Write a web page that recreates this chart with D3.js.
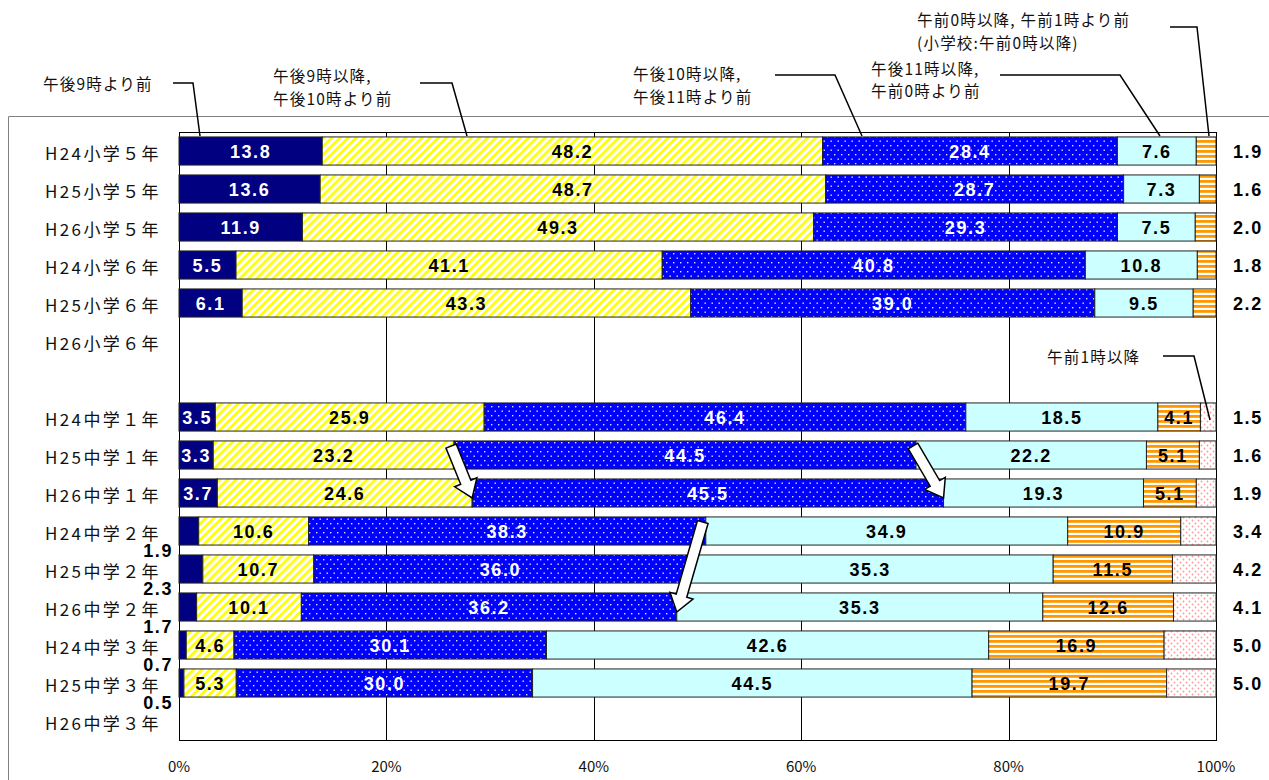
<!DOCTYPE html>
<html>
<head>
<meta charset="utf-8">
<script src="https://cdn.jsdelivr.net/npm/d3@7"></script>
<style>
  body { margin: 0; background: #fff; }
  svg { display: block; }
</style>
</head>
<body>
<svg id="chart" width="1269" height="780"></svg>
<script>
// --- data ---
const categories = [
    'H24小学５年', 'H25小学５年', 'H26小学５年', 'H24小学６年', 'H25小学６年', 'H26小学６年',
    '',
    'H24中学１年', 'H25中学１年', 'H26中学１年', 'H24中学２年', 'H25中学２年', 'H26中学２年',
    'H24中学３年', 'H25中学３年', 'H26中学３年'
];
const before21   = [13.8, 13.6, 11.9, 5.5, 6.1, null, null, 3.5, 3.3, 3.7, 1.9, 2.3, 1.7, 0.7, 0.5, null];
const from21to22 = [48.2, 48.7, 49.3, 41.1, 43.3, null, null, 25.9, 23.2, 24.6, 10.6, 10.7, 10.1, 4.6, 5.3, null];
const from22to23 = [28.4, 28.7, 29.3, 40.8, 39.0, null, null, 46.4, 44.5, 45.5, 38.3, 36.0, 36.2, 30.1, 30.0, null];
const from23to0  = [7.6, 7.3, 7.5, 10.8, 9.5, null, null, 18.5, 22.2, 19.3, 34.9, 35.3, 35.3, 42.6, 44.5, null];
const from0to1   = [1.9, 1.6, 2.0, 1.8, 2.2, null, null, 4.1, 5.1, 5.1, 10.9, 11.5, 12.6, 16.9, 19.7, null];
const after1     = [null, null, null, null, null, null, null, 1.5, 1.6, 1.9, 3.4, 4.2, 4.1, 5.0, 5.0, null];

const seriesValues = [before21, from21to22, from22to23, from23to0, from0to1, after1];
const seriesKeys = ['s0', 's1', 's2', 's3', 's4', 's5'];
const xTicks = [0, 0.2, 0.4, 0.6, 0.8, 1];

// callout annotations (text + leader line)
const callouts = [
    { lines: ['午後9時より前'], x: 43, y: [83], path: [[173, 83], [193, 83], [200, 136]] },
    { lines: ['午後9時以降,', '午後10時より前'], x: 273, y: [75, 98], path: [[420, 83], [452, 83], [467, 136]] },
    { lines: ['午後10時以降,', '午後11時より前'], x: 633, y: [73, 96], path: [[775, 75], [835, 75], [862, 136]] },
    { lines: ['午後11時以降,', '午前0時より前'], x: 871, y: [68, 90], path: [[1000, 75], [1120, 75], [1160, 136]] },
    { lines: ['午前0時以降, 午前1時より前', '(小学校:午前0時以降)'], x: 917, y: [19, 42], path: [[1170, 27], [1197, 27], [1209, 136]] },
    { lines: ['午前1時以降'], x: 1047, y: [356], path: [[1163, 356], [1194, 356], [1210, 420]] }
];

// arrows: from boundary (row, series end) to boundary (row, series end)
const arrows = [
    { fromRow: 8, toRow: 9, series: 1 },
    { fromRow: 8, toRow: 9, series: 2 },
    { fromRow: 10, toRow: 12, series: 2 }
];

// --- setup ---
const svg = d3.select('#chart');
const plotLeft = 179, plotRight = 1216, plotTop = 132, plotBottom = 740;

const x = d3.scaleLinear().domain([0, 1]).range([plotLeft, plotRight]);
const y = d3.scaleBand()
    .domain(d3.range(categories.length))
    .range([plotTop, plotBottom])
    .paddingInner(0.26)
    .paddingOuter(0.13);

const rows = categories.map((c, i) => {
    const r = { idx: i };
    seriesKeys.forEach((k, s) => r[k] = seriesValues[s][i] || 0);
    return r;
});
const stacked = d3.stack().keys(seriesKeys).offset(d3.stackOffsetExpand)(rows);

// patterns
const defs = svg.append('defs');

const pYellow = defs.append('pattern').attr('id', 'pYellow')
    .attr('patternUnits', 'userSpaceOnUse').attr('width', 5.8).attr('height', 10)
    .attr('patternTransform', 'rotate(45)');
pYellow.append('rect').attr('width', 5.8).attr('height', 10).attr('fill', '#fff');
pYellow.append('rect').attr('width', 2.7).attr('height', 10).attr('fill', '#ffff00');

const pBlue = defs.append('pattern').attr('id', 'pBlue')
    .attr('patternUnits', 'userSpaceOnUse').attr('width', 7).attr('height', 9);
pBlue.append('rect').attr('width', 7).attr('height', 9).attr('fill', '#0000ff');
pBlue.append('rect').attr('x', 1).attr('y', 1).attr('width', 1.4).attr('height', 1.4).attr('fill', '#dde2ff');
pBlue.append('rect').attr('x', 4.5).attr('y', 5.5).attr('width', 1.4).attr('height', 1.4).attr('fill', '#dde2ff');

const pOrange = defs.append('pattern').attr('id', 'pOrange')
    .attr('patternUnits', 'userSpaceOnUse').attr('width', 10).attr('height', 5);
pOrange.append('rect').attr('width', 10).attr('height', 5).attr('fill', '#fff');
pOrange.append('rect').attr('y', 0).attr('width', 10).attr('height', 2.8).attr('fill', '#ff9900');

const pPink = defs.append('pattern').attr('id', 'pPink')
    .attr('patternUnits', 'userSpaceOnUse').attr('width', 6).attr('height', 6);
pPink.append('rect').attr('width', 6).attr('height', 6).attr('fill', '#fff');
pPink.append('circle').attr('cx', 1.5).attr('cy', 1.5).attr('r', 0.9).attr('fill', '#ff9999');
pPink.append('circle').attr('cx', 4.5).attr('cy', 4.5).attr('r', 0.9).attr('fill', '#ff9999');

const fills = ['#000080', 'url(#pYellow)', 'url(#pBlue)', '#ccffff', 'url(#pOrange)', 'url(#pPink)'];
const labelColors = ['#fff', '#000', '#fff', '#000', '#000', '#000'];

// outer frame
svg.append('path')
    .attr('d', 'M8.5,780 V116.5 H1269')
    .attr('fill', 'none')
    .attr('stroke', '#808080')
    .attr('stroke-width', 1);

// gridlines
svg.append('g').selectAll('line')
    .data(xTicks.slice(1, -1))
    .enter().append('line')
    .attr('x1', d => Math.round(x(d)) + 0.5).attr('x2', d => Math.round(x(d)) + 0.5)
    .attr('y1', plotTop).attr('y2', plotBottom)
    .attr('stroke', '#000').attr('stroke-width', 1);

// plot frame
svg.append('rect')
    .attr('x', plotLeft + 0.5).attr('y', plotTop + 0.5)
    .attr('width', plotRight - plotLeft).attr('height', plotBottom - plotTop)
    .attr('fill', 'none').attr('stroke', '#000').attr('stroke-width', 1);

// bars
svg.append('g').selectAll('g')
    .data(stacked)
    .enter().append('g')
    .attr('fill', (d, i) => fills[i])
    .selectAll('rect')
    .data(d => d.filter(p => p[1] - p[0] > 0))
    .enter().append('rect')
    .attr('x', d => x(d[0]))
    .attr('y', d => y(d.data.idx))
    .attr('width', d => x(d[1]) - x(d[0]))
    .attr('height', y.bandwidth())
    .attr('stroke', '#222')
    .attr('stroke-width', 1);

// category labels
svg.append('g').selectAll('text')
    .data(categories)
    .enter().append('text')
    .attr('x', 161)
    .attr('y', (d, i) => y(i) + y.bandwidth() / 2 + 1)
    .attr('text-anchor', 'end')
    .attr('dominant-baseline', 'central')
    .style('font-family', '"Noto Sans CJK JP", sans-serif')
    .style('font-size', '17px')
    .style('letter-spacing', '2.4px')
    .style('fill', '#111')
    .text(d => d);

// value labels
const valueLabels = [];
stacked.forEach((ser, s) => {
    ser.forEach((p, j) => {
        const v = seriesValues[s][j];
        if (v == null) return;
        const last = seriesValues.slice(s + 1).every(arr => arr[j] == null);
        const cy = y(j) + y.bandwidth() / 2;
        if (last) {
            valueLabels.push({ v, x: 1233, y: cy, anchor: 'start', color: '#000' });
        } else if (s === 0 && v < 3) {
            valueLabels.push({ v, x: 173, y: cy + 19, anchor: 'end', color: '#000' });
        } else {
            valueLabels.push({ v, x: (x(p[0]) + x(p[1])) / 2, y: cy, anchor: 'middle', color: labelColors[s] });
        }
    });
});

svg.append('g').selectAll('text')
    .data(valueLabels)
    .enter().append('text')
    .attr('x', d => d.x)
    .attr('y', d => d.y + 1)
    .attr('text-anchor', d => d.anchor)
    .attr('dominant-baseline', 'central')
    .style('font-family', '"Liberation Sans", Arial, sans-serif')
    .style('font-weight', 'bold')
    .style('font-size', '18px')
    .style('letter-spacing', '1.6px')
    .style('fill', d => d.color)
    .text(d => d.v.toFixed(1));

// x axis labels
svg.append('g').selectAll('text')
    .data(xTicks)
    .enter().append('text')
    .attr('x', d => x(d))
    .attr('y', 765)
    .attr('text-anchor', 'middle')
    .attr('dominant-baseline', 'central')
    .style('font-family', '"Noto Sans CJK JP", sans-serif')
    .style('font-size', '15px')
    .style('fill', '#111')
    .text(d => d3.format('.0%')(d));

// arrows
function boundary(row, s) {
    return stacked[s][row][1];
}
const arrowG = svg.append('g');
arrows.forEach(a => {
    const x1 = x(boundary(a.fromRow, a.series)) - 3;
    const y1 = y(a.fromRow) + y.bandwidth() / 2 - 9;
    const x2 = x(boundary(a.toRow, a.series));
    const y2 = y(a.toRow) + y.bandwidth() / 2 + 5;
    const len = Math.hypot(x2 - x1, y2 - y1);
    const ang = Math.atan2(y2 - y1, x2 - x1) * 180 / Math.PI;
    const hl = 17, sw = 5.5, hw = 12;
    const pts = [[0, -sw], [len - hl, -sw], [len - hl, -hw], [len, 0], [len - hl, hw], [len - hl, sw], [0, sw]];
    arrowG.append('polygon')
        .attr('points', pts.map(p => p.join(',')).join(' '))
        .attr('transform', `translate(${x1},${y1}) rotate(${ang})`)
        .attr('fill', '#fff')
        .attr('stroke', '#000')
        .attr('stroke-width', 1.5)
        .attr('stroke-linejoin', 'miter');
});

// callouts
const callG = svg.append('g');
callouts.forEach(c => {
    callG.append('path')
        .attr('d', d3.line()(c.path))
        .attr('fill', 'none')
        .attr('stroke', '#000')
        .attr('stroke-width', 1.5);
    c.lines.forEach((t, i) => {
        callG.append('text')
            .attr('x', c.x)
            .attr('y', c.y[i])
            .attr('dominant-baseline', 'central')
            .style('font-family', '"Noto Sans CJK JP", sans-serif')
            .style('font-size', '15.5px')
            .style('letter-spacing', '1.2px')
            .style('fill', '#111')
            .text(t);
    });
});
</script>
</body>
</html>
